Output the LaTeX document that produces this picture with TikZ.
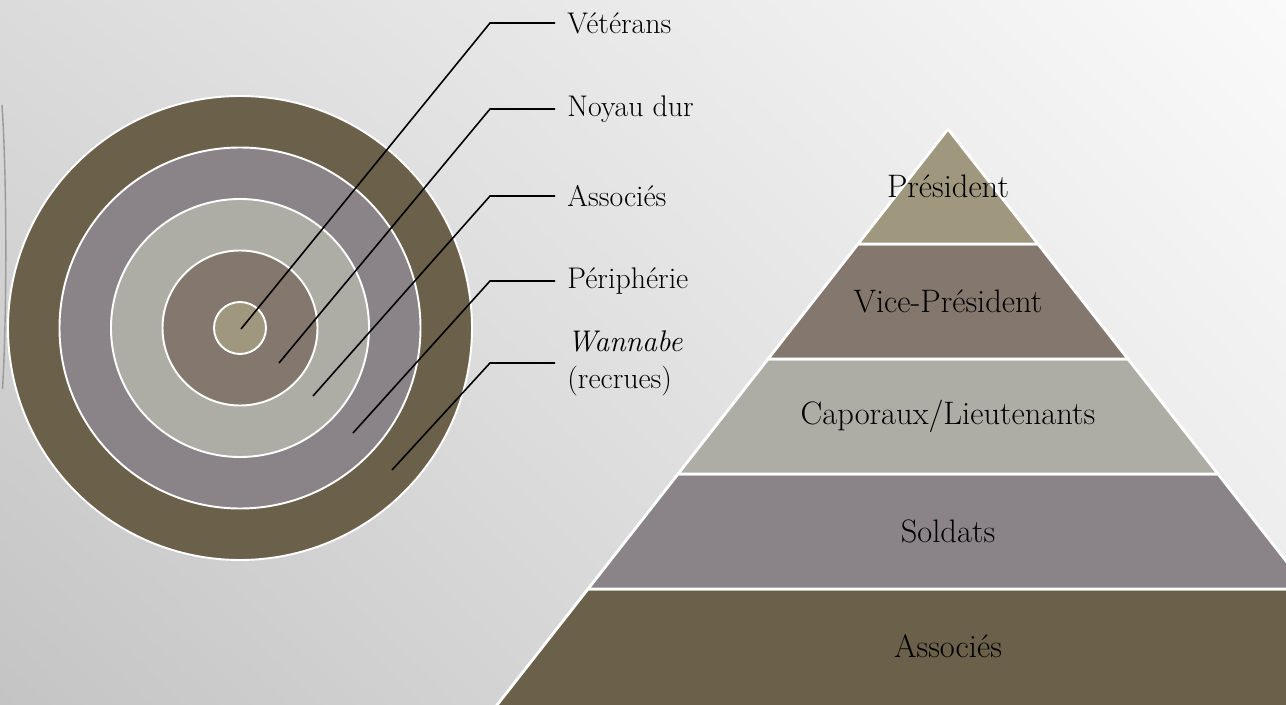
\documentclass[tikz,border=0pt]{standalone}
\usepackage{fontspec}
\usepackage{xcolor}
\usetikzlibrary{shadings}
\definecolor{darkolive}{HTML}{6B6049}
\definecolor{mauve}{HTML}{8A8488}
\definecolor{sage}{HTML}{ADADA6}
\definecolor{taupe}{HTML}{84776D}
\definecolor{sand}{HTML}{A0977F}
\definecolor{bgul}{HTML}{DBDBDB}
\definecolor{bgur}{HTML}{FAFAFA}
\definecolor{bgll}{HTML}{C4C4C4}
\definecolor{bglr}{HTML}{EAEAEA}
\tikzset{
  ring/.style={draw=white, line width=1.1pt},
  layer/.style={draw=white, line width=1.6pt, line join=round},
  leader/.style={draw=black, line width=0.9pt},
  lbl/.style={anchor=west, align=left, inner sep=0.24cm, font=\fontsize{17}{21}\selectfont},
  tier/.style={font=\fontsize{18.5}{22}\selectfont}
}

\begin{document}
\begin{tikzpicture}
  % background
  \clip (0,0) rectangle (25.72,14.08);
  \shade[upper left=bgul, upper right=bgur, lower left=bgll, lower right=bglr] (0,0) rectangle (25.72,14.08);
  \draw[gray!80, line width=0.8pt] (0.04,11.98) .. controls (0.14,10.5) and (0.14,7.8) .. (0.05,6.3);

  % target
  \path[ring, fill=darkolive] (4.80,7.52) circle (4.64);
  \path[ring, fill=mauve] (4.80,7.52) circle (3.61);
  \path[ring, fill=sage] (4.80,7.52) circle (2.58);
  \path[ring, fill=taupe] (4.80,7.52) circle (1.55);
  \path[ring, fill=sand] (4.80,7.52) circle (0.52);
  \coordinate (tc) at (4.82,7.50);
  \coordinate (tn) at (5.58,6.82);
  \coordinate (ta) at (6.26,6.16);
  \coordinate (tp) at (7.06,5.42);
  \coordinate (tw) at (7.84,4.68);

  \node[lbl] (vet) at (11.1,13.62) {Vétérans};
  \node[lbl] (noy) at (11.1,11.90) {Noyau dur};
  \node[lbl] (ass) at (11.1,10.16) {Associés};
  \node[lbl] (per) at (11.1,8.46) {Périphérie};
  \node[lbl] (wan) at (11.1,6.82) {\textit{Wannabe}\\(recrues)};

  \draw[leader] (tc) -- ([xshift=-1.3cm]vet.west) -- (vet.west);
  \draw[leader] (tn) -- ([xshift=-1.3cm]noy.west) -- (noy.west);
  \draw[leader] (ta) -- ([xshift=-1.3cm]ass.west) -- (ass.west);
  \draw[leader] (tp) -- ([xshift=-1.3cm]per.west) -- (per.west);
  \draw[leader] (tw) -- ([xshift=-1.3cm]wan.west) -- (wan.west);

  % pyramid
  \path[layer, fill=darkolive] (9.80,-0.2) -- (11.76,2.3) -- (26.16,2.3) -- (28.12,-0.2) -- cycle;
  \path[layer, fill=mauve] (11.76,2.3) -- (13.56,4.6) -- (24.36,4.6) -- (26.16,2.3) -- cycle;
  \path[layer, fill=sage] (13.56,4.6) -- (15.36,6.9) -- (22.56,6.9) -- (24.36,4.6) -- cycle;
  \path[layer, fill=taupe] (15.36,6.9) -- (17.16,9.2) -- (20.76,9.2) -- (22.56,6.9) -- cycle;
  \path[layer, fill=sand] (17.16,9.2) -- (18.96,11.5) -- (20.76,9.2) -- cycle;

  \node[tier] (pres) at (18.96,10.35) {Président};
  \node[tier] (vice) at (18.96,8.05) {Vice-Président};
  \node[tier] (capo) at (18.96,5.75) {Caporaux/Lieutenants};
  \node[tier] (sold) at (18.96,3.45) {Soldats};
  \node[tier] (asso) at (18.96,1.15) {Associés};
\end{tikzpicture}
\end{document}
